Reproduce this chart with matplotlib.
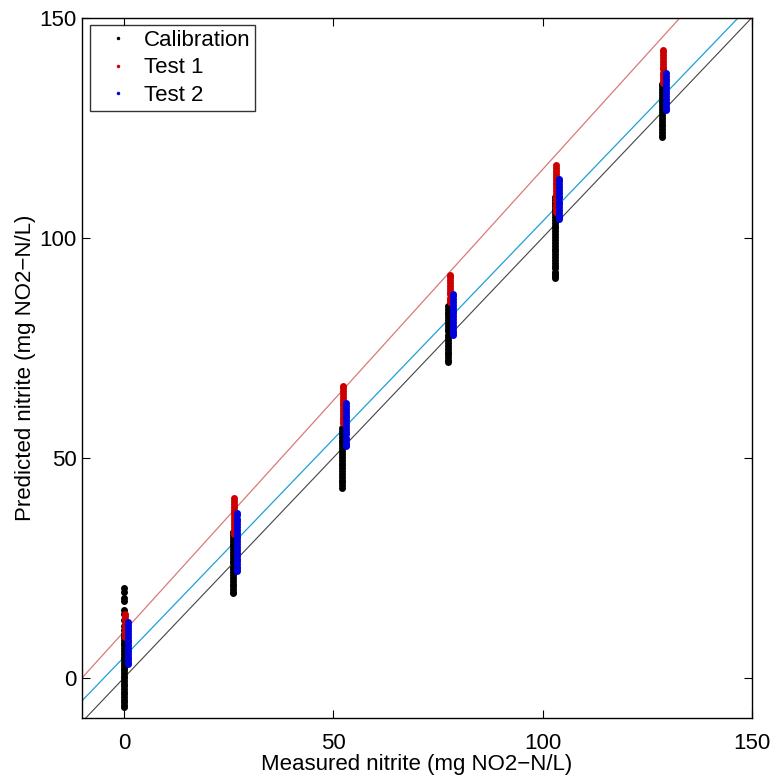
import matplotlib
matplotlib.use("Agg")
import matplotlib.pyplot as plt
import numpy as np

plt.rcParams['font.family'] = ['Liberation Sans', 'DejaVu Sans']

# Measured concentration levels (mg NO2-N/L)
levels = [0.0, 26.0, 52.0, 77.5, 103.0, 128.5]

# Calibration predictions per level
cal_pred = [
    [20.4, 19.6, 18.2, 17.4, 15.4, 14.6, 13.1, 11.8, 10.9, 10.0, 9.3, 8.6, 8.0, 7.4, 6.7,
     6.1, 5.5, 4.8, 4.2, 3.6, 2.9, 2.3, 1.7, 1.1, 0.5, -0.1, -0.7, -1.3, -1.9, -2.5,
     -3.1, -3.7, -4.3, -4.9, -5.5, -6.1, -6.5],
    [33.1, 32.5, 31.8, 31.2, 30.5, 29.9, 29.2, 28.6, 27.9, 27.3, 26.6, 26.0, 25.3, 24.7,
     24.0, 23.4, 22.7, 22.1, 21.4, 20.8, 20.1, 19.6, 19.2],
    [56.7, 56.1, 55.4, 54.8, 54.1, 53.5, 52.8, 52.2, 51.5, 50.9, 50.2, 49.6, 48.9, 48.3,
     47.6, 47.0, 46.3, 45.7, 45.0, 44.4, 43.8, 43.2],
    [84.5, 83.9, 83.2, 82.6, 81.9, 81.3, 80.6, 80.0, 79.3, 78.7, 78.0, 77.4, 76.7, 76.1,
     75.4, 74.8, 74.1, 73.5, 72.8, 72.2, 71.7],
    [109.2, 108.6, 107.9, 107.3, 106.6, 106.0, 105.3, 104.7, 104.0, 103.4, 102.7, 102.1,
     101.4, 100.8, 100.1, 99.5, 98.8, 98.2, 97.5, 96.9, 96.2, 95.6, 94.9, 94.3, 93.6,
     93.0, 92.3, 91.7, 91.2, 90.8],
    [135.0, 134.4, 133.7, 133.1, 132.4, 131.8, 131.1, 130.5, 129.8, 129.2, 128.5, 127.9,
     127.2, 126.6, 125.9, 125.3, 124.6, 124.0, 123.4, 122.8],
]

# Test 1 predictions per level
test1_pred = [
    [14.6, 14.0, 13.3, 12.7, 12.0, 11.4, 10.7, 10.1, 9.6, 9.2],
    [40.8, 40.2, 39.5, 38.9, 38.2, 37.6, 36.9, 36.3, 35.6, 35.0, 34.3, 33.7, 33.2, 32.8],
    [66.4, 65.8, 65.1, 64.5, 63.8, 63.2, 62.5, 61.9, 61.2, 60.6, 59.9, 59.3, 58.7, 58.2,
     57.8],
    [91.6, 91.0, 90.3, 89.7, 89.0, 88.4, 87.7, 87.1, 86.4, 85.8, 85.3],
    [116.4, 115.8, 115.1, 114.5, 113.8, 113.2, 112.5, 111.9, 111.2, 110.6, 109.9, 109.3,
     108.6, 108.0, 107.3, 106.7, 106.2, 105.9],
    [142.7, 142.1, 141.4, 140.8, 140.1, 139.5, 138.8, 138.2, 137.5, 136.9, 136.2, 135.6,
     135.1],
]

# Test 2 predictions per level
test2_pred = [
    [12.6, 12.0, 11.3, 10.7, 10.0, 9.4, 8.7, 8.1, 7.4, 6.8, 6.1, 5.5, 4.8, 4.2, 3.6, 3.2],
    [37.5, 36.9, 36.2, 35.6, 34.9, 34.3, 33.6, 33.0, 32.3, 31.7, 31.0, 30.4, 29.7, 29.1,
     28.4, 27.8, 27.1, 26.5, 25.8, 25.2, 24.7, 24.3],
    [62.4, 61.8, 61.1, 60.5, 59.8, 59.2, 58.5, 57.9, 57.2, 56.6, 55.9, 55.3, 54.6, 54.0,
     53.4, 52.9, 52.6],
    [87.3, 86.7, 86.0, 85.4, 84.7, 84.1, 83.4, 82.8, 82.1, 81.5, 80.8, 80.2, 79.5, 78.9,
     78.3, 77.8],
    [113.4, 112.8, 112.1, 111.5, 110.8, 110.2, 109.5, 108.9, 108.2, 107.6, 106.9, 106.3,
     105.6, 105.0, 104.6, 104.3],
    [137.4, 136.8, 136.1, 135.5, 134.8, 134.2, 133.5, 132.9, 132.2, 131.6, 130.9, 130.3,
     129.6, 129.2, 129.0],
]

# x offsets of each series relative to the level
test1_dx = 0.3
test2_dx = 1.0

# Fitted lines: (slope, intercept)
line_ideal = (1.0, 0.0)
line_test1 = (1.05, 10.5)
line_test2 = (0.99, 4.7)

xlim = (-10, 150)
ylim = (-9.1, 150)

fig = plt.figure(figsize=(7.76, 7.78), dpi=100)
ax = fig.add_axes([82/776, 1 - 718/778, 670/776, 700.5/778])

xx = np.array(xlim, dtype=float)
ax.plot(xx, line_test1[0]*xx + line_test1[1], color='#d97a7a', lw=0.9, zorder=1)
ax.plot(xx, line_test2[0]*xx + line_test2[1], color='#1f9fd8', lw=0.9, zorder=1)
ax.plot(xx, line_ideal[0]*xx + line_ideal[1], color='#444444', lw=0.8, zorder=1)

def xy(preds, dx):
    xs, ys = [], []
    for lv, ps in zip(levels, preds):
        xs.extend([lv + dx]*len(ps))
        ys.extend(ps)
    return xs, ys

ms = 5.0
cx, cy = xy(cal_pred, 0.0)
ax.plot(cx, cy, 'o', color='black', ms=ms, mew=0, ls='none', label='Calibration', zorder=2)
tx, ty = xy(test1_pred, test1_dx)
ax.plot(tx, ty, 'o', color='#cc0000', ms=ms, mew=0, ls='none', label='Test 1', zorder=3)
bx, by = xy(test2_pred, test2_dx)
ax.plot(bx, by, 'o', color='#0000dd', ms=ms, mew=0, ls='none', label='Test 2', zorder=4)

ax.set_xlim(*xlim)
ax.set_ylim(*ylim)
ax.set_xticks([0, 50, 100, 150])
ax.set_yticks([0, 50, 100, 150])
ax.tick_params(direction='in', length=6, width=0.8, top=True, right=True,
               labelsize=16, pad=4)
ax.tick_params(axis='x', pad=11)
for s in ax.spines.values():
    s.set_linewidth(1.0)

ax.set_xlabel('Measured nitrite (mg NO2\u2212N/L)', fontsize=16, labelpad=0)
ax.set_ylabel('Predicted nitrite (mg NO2\u2212N/L)', fontsize=16, labelpad=2)

leg = ax.legend(loc='upper left', fontsize=16, frameon=True, fancybox=False,
                edgecolor='black', markerscale=0.5, handlelength=2.1,
                handletextpad=0.15, borderpad=0.2, labelspacing=0.3,
                borderaxespad=0.35)
leg.get_frame().set_linewidth(1.0)

fig.savefig('out.png', dpi=100)
